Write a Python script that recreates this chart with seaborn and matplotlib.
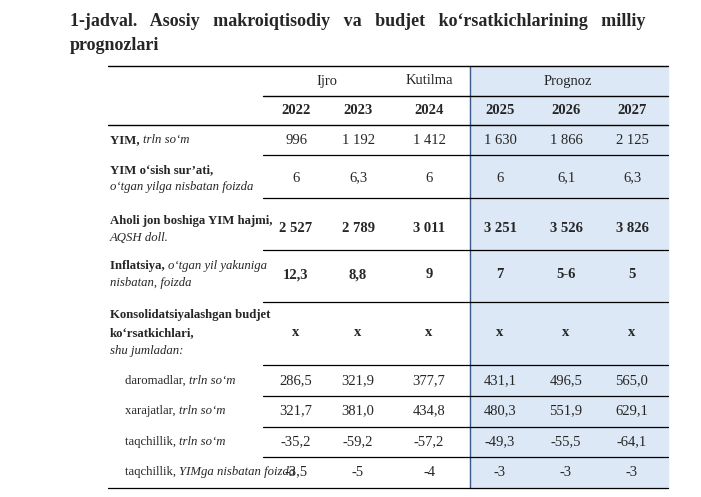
import matplotlib.pyplot as plt
import seaborn as sns
from matplotlib.patches import Rectangle

# 表格樣式
sns.set_theme(style='white')
plt.rcParams['font.family'] = ['Liberation Serif', 'DejaVu Serif']

# 表格數據
years = ['2022', '2023', '2024', '2025', '2026', '2027']
col_x = [296, 358, 429, 500, 566, 632]
rows = [
    # (標籤行列表, 數值, 是否粗體, 數值y, 標籤y)
    ([('YIM, ', 'bold', 'normal'), ('trln so‘m', 'normal', 'italic')],
     ['996', '1 192', '1 412', '1 630', '1 866', '2 125'], False, 140, [140]),
    ([('YIM o‘sish sur’ati,', 'bold', 'normal'), ('o‘tgan yilga nisbatan foizda', 'normal', 'italic')],
     ['6', '6,3', '6', '6', '6,1', '6,3'], False, 178, [170, 187]),
    ([('Aholi jon boshiga YIM hajmi,', 'bold', 'normal'), ('AQSH doll.', 'normal', 'italic')],
     ['2 527', '2 789', '3 011', '3 251', '3 526', '3 826'], True, 228, [221, 238]),
    ([('Inflatsiya, ', 'bold', 'normal'), ('o‘tgan yil yakuniga', 'normal', 'italic'), ('nisbatan, foizda', 'normal', 'italic')],
     ['12,3', '8,8', '9', '7', '5-6', '5'], True, 275, [266, 283]),
    ([('Konsolidatsiyalashgan budjet', 'bold', 'normal'), ('ko‘rsatkichlari,', 'bold', 'normal'), ('shu jumladan:', 'normal', 'italic')],
     ['x', 'x', 'x', 'x', 'x', 'x'], True, 333, [315, 333, 351]),
    ([('daromadlar, ', 'normal', 'normal'), ('trln so‘m', 'normal', 'italic')],
     ['286,5', '321,9', '377,7', '431,1', '496,5', '565,0'], False, 381, [381]),
    ([('xarajatlar, ', 'normal', 'normal'), ('trln so‘m', 'normal', 'italic')],
     ['321,7', '381,0', '434,8', '480,3', '551,9', '629,1'], False, 411, [411]),
    ([('taqchillik, ', 'normal', 'normal'), ('trln so‘m', 'normal', 'italic')],
     ['-35,2', '-59,2', '-57,2', '-49,3', '-55,5', '-64,1'], False, 442, [442]),
    ([('taqchillik, ', 'normal', 'normal'), ('YIMga nisbatan foizda', 'normal', 'italic')],
     ['-3,5', '-5', '-4', '-3', '-3', '-3'], False, 472, [472]),
]
row_lines = [155, 198, 250, 302, 365, 396, 427, 457]
fs = 9.2  # 標籤字號

fig = plt.figure(figsize=(7.01, 4.97), dpi=100)
ax = fig.add_axes([0, 0, 1, 1])
ax.set_xlim(0, 701)
ax.set_ylim(497, 0)
ax.axis('off')

# 標題
ax.text(70, 22, '1-jadval.   Asosiy   makroiqtisodiy   va   budjet   ko‘rsatkichlarining   milliy',
        fontsize=13, fontweight='bold', va='center')
ax.text(70, 45, 'prognozlari', fontsize=13, fontweight='bold', va='center')

# 預測區域背景
ax.add_patch(Rectangle((470, 66), 198, 422, color='#dce8f5', zorder=0))
ax.plot([470, 470], [66, 488], color='#3a5a8a', lw=1)

# 橫線
ax.plot([108, 668], [66, 66], color='black', lw=1)
ax.plot([263, 668], [96, 96], color='black', lw=1)
ax.plot([108, 668], [125, 125], color='black', lw=1)
for y in row_lines:
    ax.plot([263, 668], [y, y], color='black', lw=0.9)
ax.plot([108, 668], [488, 488], color='black', lw=0.9)

# 表頭
ax.text(327, 81, 'Ijro', fontsize=10.5, ha='center', va='center')
ax.text(429, 81, 'Kutilma', fontsize=10.5, ha='center', va='center')
ax.text(568, 81, 'Prognoz', fontsize=10.5, ha='center', va='center')
for x, yr in zip(col_x, years):
    ax.text(x, 111, yr, fontsize=10.5, fontweight='bold', ha='center', va='center')

# 數據行
for i, (labels, vals, bold, vy, ly) in enumerate(rows):
    indent = 125 if i >= 5 else 110
    if len(ly) == 1:
        t = ax.text(indent, ly[0], labels[0][0], fontsize=fs, fontweight=labels[0][1],
                    style=labels[0][2], va='center')
        ax.annotate(labels[1][0], xycoords=t, xy=(1, 0.5), va='center', fontsize=fs,
                    fontweight=labels[1][1], style=labels[1][2])
    elif i == 3:
        t = ax.text(indent, ly[0], labels[0][0], fontsize=fs, fontweight='bold', va='center')
        ax.annotate(labels[1][0], xycoords=t, xy=(1, 0.5), va='center', fontsize=fs, style='italic')
        ax.text(indent, ly[1], labels[2][0], fontsize=fs, style='italic', va='center')
    else:
        for (txt, w, s), y in zip(labels, ly):
            ax.text(indent, y, txt, fontsize=fs, fontweight=w, style=s, va='center')
    for x, v in zip(col_x, vals):
        ax.text(x, vy, v, fontsize=10.5, fontweight='bold' if bold else 'normal',
                ha='center', va='center')

# 儲存圖表
plt.savefig('out.png', dpi=100)
